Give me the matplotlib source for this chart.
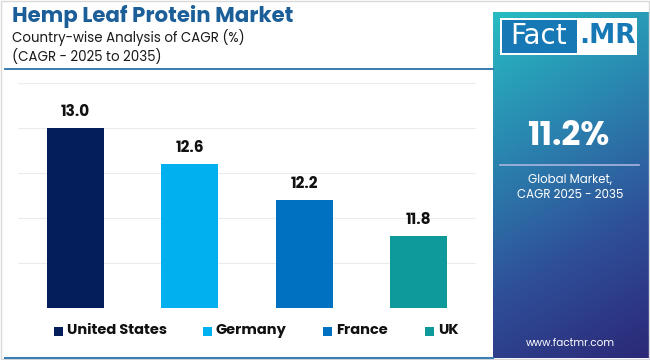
import matplotlib
matplotlib.use("Agg")
import matplotlib.pyplot as plt
import numpy as np
from matplotlib.colors import LinearSegmentedColormap
from matplotlib.patches import Rectangle

countries = ["United States", "Germany", "France", "UK"]
cagr = [13.0, 12.6, 12.2, 11.8]
colors = ["#041e5c", "#00b0ef", "#0070c0", "#0e9a9a"]
global_cagr = "11.2%"

plt.rcParams['font.family'] = ['Poppins', 'Inter', 'DejaVu Sans']

W, H = 650, 360
fig = plt.figure(figsize=(6.5, 3.6), dpi=100)
fig.patch.set_facecolor("white")


def fx(px):
    return px / W


def fy(py):
    return 1 - py / H


# outer frame
fig.add_artist(Rectangle((fx(1), fy(359)), fx(648), 358 / H, transform=fig.transFigure,
                         fill=False, edgecolor="#d9d9d9", linewidth=1))

# title block
fig.text(fx(12), fy(17), "Hemp Leaf Protein Market", fontsize=15.3, fontweight="bold",
         color="#1b5e98", va="center", ha="left")
fig.text(fx(12), fy(38), "Country-wise Analysis of CAGR (%)", fontsize=9.6,
         color="#1a1a1a", va="center", ha="left")
fig.text(fx(12), fy(57), "(CAGR - 2025 to 2035)", fontsize=9.6,
         color="#1a1a1a", va="center", ha="left")
fig.add_artist(plt.Line2D([fx(5), fx(493)], [fy(69), fy(69)], transform=fig.transFigure,
                          color="#2a6fa8", linewidth=1.3))
fig.add_artist(plt.Line2D([fx(5), fx(493)], [fy(358), fy(358)], transform=fig.transFigure,
                          color="#3b7fb5", linewidth=1.5))

# bar chart
ax = fig.add_axes([fx(18), fy(308), fx(476 - 18), (308 - 83) / H])
x = np.arange(len(countries))
ax.bar(x, cagr, width=0.5, color=colors, zorder=3)
for xi, v in zip(x, cagr):
    ax.text(xi, v + 0.09, f"{v:.1f}", ha="center", va="bottom", fontsize=11,
            fontweight="bold", color="#111111")
ax.set_xlim(-0.5, 3.5)
ax.set_ylim(11.0, 13.5)
ax.set_yticks(np.arange(11.0, 13.51, 0.5))
ax.yaxis.grid(True, color="#ececec", linewidth=0.8, zorder=0)
ax.tick_params(left=False, bottom=False, labelleft=False, labelbottom=False)
for s in ax.spines.values():
    s.set_visible(False)

# legend
leg_x = [54, 203, 323, 425]
for lx, name, c in zip(leg_x, countries, colors):
    fig.add_artist(Rectangle((fx(lx), fy(336)), fx(9), 9 / H, transform=fig.transFigure,
                             facecolor=c, edgecolor="none"))
    fig.text(fx(lx + 13), fy(331), name, fontsize=10.5, fontweight="bold",
             color="#111111", va="center", ha="left")

# right panel with gradient
pax = fig.add_axes([fx(493), fy(358), fx(648 - 493), (358 - 12) / H])
cmap = LinearSegmentedColormap.from_list("fm", ["#2b2877", "#2f4f98", "#2a86b0", "#27bcc2"])
yy, xx = np.mgrid[0:1:200j, 0:1:200j]
grad = (1 - yy) * 0.8 + (1 - xx) * 0.2
pax.imshow(grad, cmap=cmap, extent=[0, 1, 0, 1], origin="upper", aspect="auto")
pax.set_xlim(0, 1)
pax.set_ylim(0, 1)
pax.axis("off")

# logo
fig.add_artist(Rectangle((fx(500), fy(55)), fx(137), 37 / H, transform=fig.transFigure,
                         facecolor="white", edgecolor="none"))
fig.add_artist(Rectangle((fx(502), fy(53)), fx(75), 33 / H, transform=fig.transFigure,
                         facecolor="#1679b5", edgecolor="none"))
fig.text(fx(539), fy(36), "Fact", fontsize=20, color="white", ha="center", va="center",
         family="DejaVu Sans")
fig.text(fx(607), fy(36), ".MR", fontsize=19, color="#1679b5", ha="center", va="center",
         fontweight="bold", family="DejaVu Sans")

fig.text(fx(568), fy(137), global_cagr, fontsize=24, fontweight="bold", color="white",
         ha="center", va="center")
fig.add_artist(plt.Line2D([fx(500), fx(639)], [fy(165), fy(165)], transform=fig.transFigure,
                          color="#a9b6e0", linewidth=1.2))
fig.text(fx(570), fy(180), "Global Market,", fontsize=8.5, color="white", ha="center", va="center")
fig.text(fx(570), fy(195), "CAGR 2025 - 2035", fontsize=8.5, color="white", ha="center", va="center")
fig.text(fx(570), fy(344), "www.factmr.com", fontsize=7.5, color="white", ha="center", va="center")

fig.savefig("out.png", dpi=100, facecolor="white")
